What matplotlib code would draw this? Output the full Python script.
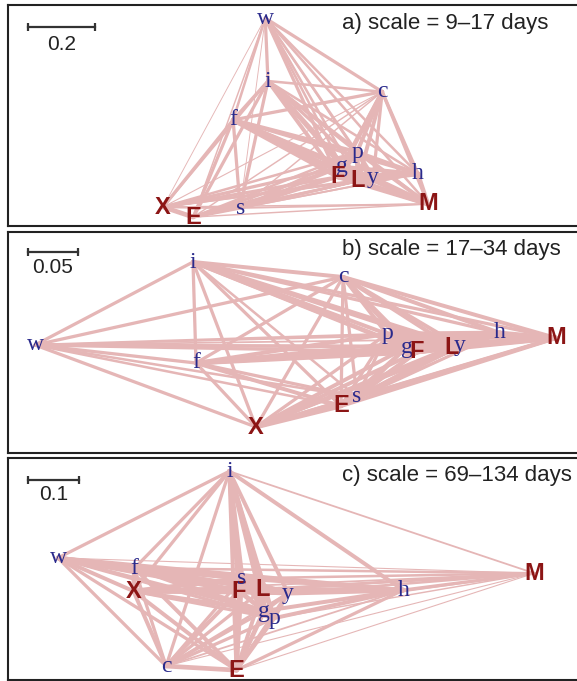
import matplotlib.pyplot as plt

# three network panels (MDS layout of station correlations)

nodes = ["w", "i", "c", "f", "p", "g", "F", "L", "y", "h", "M", "X", "E", "s"]

# node coordinates, panel a (9-17 days)
xa = [-0.104, -0.096, 0.245, -0.200, 0.170, 0.125, 0.113, 0.173, 0.218, 0.352, 0.382, -0.409, -0.319, -0.179]
ya = [0.304, 0.116, 0.084, 0.000, -0.096, -0.140, -0.170, -0.182, -0.173, -0.161, -0.251, -0.260, -0.290, -0.263]

# panel b (17-34 days)
xb = [-0.265, -0.107, 0.043, -0.104, 0.087, 0.107, 0.117, 0.152, 0.160, 0.200, 0.256, -0.044, 0.041, 0.057]
yb = [0.000, 0.083, 0.068, -0.018, 0.011, -0.002, -0.007, -0.002, -0.001, 0.012, 0.007, -0.082, -0.061, -0.052]

# panel c (69-134 days)
xc = [-0.475, -0.139, -0.263, -0.325, -0.051, -0.071, -0.120, -0.073, -0.024, 0.202, 0.459, -0.327, -0.125, -0.114]
yc = [0.024, 0.194, -0.188, 0.004, -0.094, -0.080, -0.041, -0.037, -0.045, -0.039, -0.006, -0.041, -0.196, -0.016]

# edge widths, upper triangle in node order (row k -> nodes k+1..)
wa = [
    [1.8, 1.8, 1.4, 1.4, 1.4, 1.8, 1.4, 1.0, 1.4, 1.4, 0.5, 0.8, 0.5],
    [1.4, 1.8, 1.8, 2.2, 2.2, 2.2, 1.8, 1.4, 1.4, 1.4, 1.8, 1.8],
    [1.8, 2.2, 2.2, 2.2, 2.2, 1.8, 1.8, 1.8, 0.6, 0.8, 0.8],
    [2.2, 2.6, 2.6, 2.6, 2.2, 1.8, 1.8, 1.8, 1.8, 1.8],
    [2.6, 2.6, 2.6, 2.6, 2.2, 2.2, 1.4, 1.4, 1.4],
    [2.6, 2.6, 2.6, 2.2, 2.6, 1.8, 1.8, 1.4],
    [2.6, 2.6, 2.6, 2.6, 1.8, 1.8, 1.8],
    [2.6, 2.6, 2.6, 1.4, 1.4, 1.4],
    [2.2, 2.6, 1.0, 1.4, 1.0],
    [2.2, 1.0, 1.0, 1.0],
    [0.8, 0.8, 1.0],
    [2.6, 1.4],
    [1.8],
]
wb = [
    [1.8, 1.8, 1.8, 1.4, 1.4, 1.8, 1.8, 1.4, 1.0, 1.0, 1.8, 1.4, 1.4],
    [2.2, 1.8, 2.2, 2.2, 2.2, 2.2, 2.2, 1.8, 1.8, 1.8, 1.8, 1.4],
    [1.8, 2.2, 2.2, 2.2, 2.2, 2.2, 2.2, 2.2, 1.8, 1.8, 1.8],
    [2.2, 2.6, 2.6, 2.6, 2.2, 1.8, 1.8, 1.8, 2.2, 1.8],
    [2.6, 2.6, 2.6, 2.6, 2.6, 2.6, 1.8, 1.8, 1.8],
    [2.6, 2.6, 2.6, 2.6, 2.6, 2.2, 2.2, 1.8],
    [2.6, 2.6, 2.6, 2.6, 2.2, 2.2, 2.2],
    [2.6, 2.6, 2.6, 2.2, 2.2, 1.8],
    [2.6, 2.6, 1.8, 1.8, 1.8],
    [2.6, 1.4, 1.4, 1.4],
    [2.2, 2.2, 1.8],
    [2.6, 2.2],
    [2.2],
]
wc = [
    [1.8, 1.8, 2.6, 1.8, 1.8, 2.6, 2.2, 1.8, 2.2, 0.6, 2.2, 1.8, 2.2],
    [1.8, 1.8, 2.2, 2.2, 2.6, 2.6, 2.2, 2.2, 1.0, 1.8, 2.2, 2.6],
    [1.8, 1.8, 1.8, 2.2, 1.8, 1.4, 1.0, 0.6, 2.2, 2.6, 1.8],
    [2.2, 2.2, 2.6, 2.6, 2.2, 2.2, 1.4, 2.6, 2.2, 2.6],
    [2.6, 2.2, 2.2, 2.2, 2.2, 0.8, 1.8, 2.2, 1.8],
    [2.6, 2.6, 2.2, 2.2, 0.8, 2.2, 2.6, 2.2],
    [2.6, 2.6, 2.6, 1.4, 2.6, 2.6, 2.6],
    [2.6, 2.6, 1.4, 2.6, 2.2, 2.6],
    [2.6, 1.4, 2.2, 2.2, 2.2],
    [1.8, 2.2, 1.8, 2.2],
    [1.0, 0.6, 1.4],
    [2.2, 2.6],
    [2.2],
]

titles = ["a) scale = 9\u201317 days", "b) scale = 17\u201334 days", "c) scale = 69\u2013134 days"]
bar_len = [0.2, 0.05, 0.1]
bar_lab = ["0.2", "0.05", "0.1"]

W, H = 577, 681
edge_col = "#e5b6b6"
red = "#8c1515"
blue = "#2a2a8c"
lw_scale = 1.3

# panel frames in pixels: left, top, width, height
frames = [(8, 5, 574, 221), (8, 232, 574, 221), (8, 458, 574, 222)]
ppu = [335, 1000, 510]          # pixels per data unit
xlo = [-0.872, -0.292, -0.573]  # left data limit
ytop = [0.343, 0.113, 0.220]    # top data limit
bar_y = [27, 252, 480]
lab_y = [45, 267, 494]

fig = plt.figure(figsize=(W / 100, H / 100), dpi=100)

panels = [(xa, ya, wa), (xb, yb, wb), (xc, yc, wc)]
for k, (xs, ys, ws) in enumerate(panels):
    l, t, w, h = frames[k]
    ax = fig.add_axes([l / W, 1 - (t + h) / H, w / W, h / H])
    ax.set_xlim(xlo[k], xlo[k] + w / ppu[k])
    ax.set_ylim(ytop[k] - h / ppu[k], ytop[k])
    ax.set_xticks([]); ax.set_yticks([])
    for sp in ax.spines.values():
        sp.set_linewidth(1.5); sp.set_color("#222222")

    # edges
    for a in range(len(nodes) - 1):
        for j, lw in enumerate(ws[a]):
            b = a + 1 + j
            ax.plot([xs[a], xs[b]], [ys[a], ys[b]], color=edge_col, lw=lw * lw_scale,
                    solid_capstyle="round", zorder=1)

    # node labels
    for n, x, y in zip(nodes, xs, ys):
        if n.isupper():
            ax.text(x, y, n, ha="center", va="center", fontsize=17, weight="bold",
                    family="Liberation Sans", color=red, zorder=3)
        else:
            ax.text(x, y, n, ha="center", va="center", fontsize=17,
                    family="Liberation Serif", color=blue, zorder=3)

    # scale bar
    inv = ax.transData.inverted()
    x0, y0 = inv.transform((28, H - bar_y[k]))
    ax.plot([x0, x0 + bar_len[k]], [y0, y0], color="#333333", lw=1.6,
            marker="|", ms=6, mew=1.6, zorder=4)
    _, yl = inv.transform((28, H - lab_y[k]))
    ax.text(x0 + bar_len[k] / 2, yl, bar_lab[k], ha="center", va="center",
            fontsize=15, family="Liberation Sans", color="#222222")

    fig.text(342 / W, 1 - (t + 18) / H, titles[k], ha="left", va="center",
             fontsize=16, family="Liberation Sans", color="#222222")

fig.savefig("out.png", dpi=100)
